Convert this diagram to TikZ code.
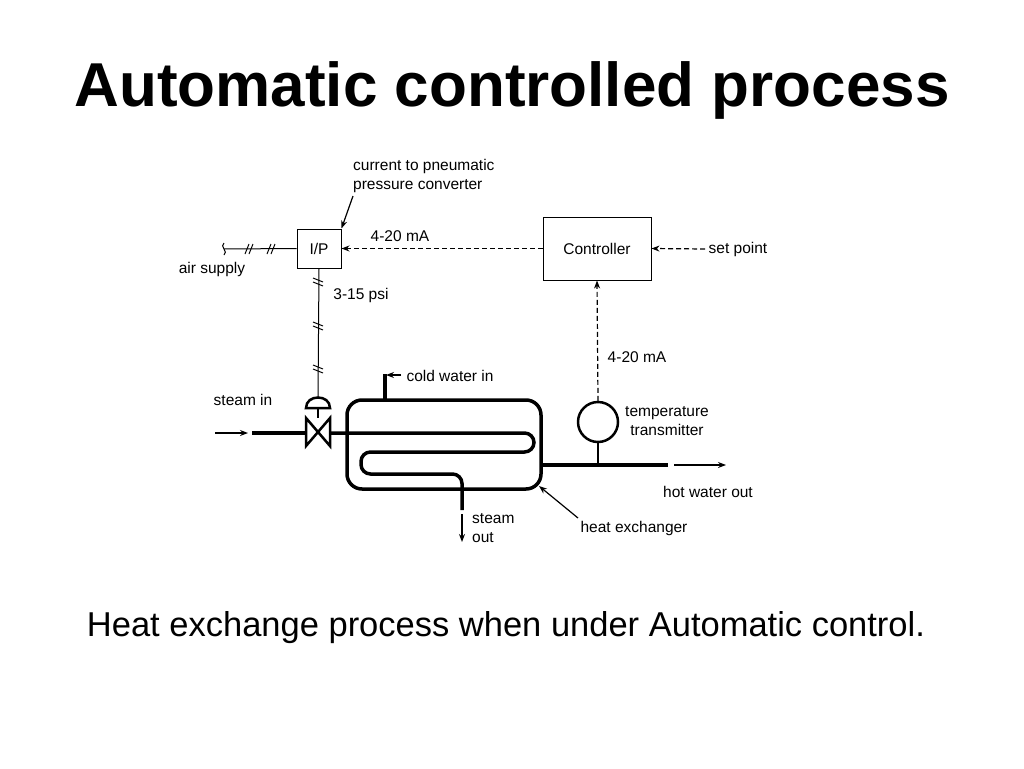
\documentclass[tikz,border=0pt]{standalone}
\usepackage{fontspec}
\setmainfont{Liberation Sans}
\usetikzlibrary{arrows.meta,positioning,calc}

\newcommand{\hashpair}[2]{% two slanted ticks at a point, rotated
  \draw[line width=1pt,rotate around={#2:#1}] ($#1+(-3,5)$) -- ($#1+(1,-5)$) ($#1+(1,5)$) -- ($#1+(5,-5)$);}

\begin{document}
\begin{tikzpicture}[x=1pt,y=-1pt,>={Stealth[length=8pt,width=6pt]},
    lbl/.style={font=\fontsize{15.5}{18.5}\selectfont,inner sep=1pt},
    box/.style={draw,line width=1pt,font=\fontsize{15.5}{18}\selectfont},
    signal/.style={dash pattern=on 5pt off 3pt,line width=1.2pt,->},
    pipe/.style={line width=3.5pt},
    flow/.style={line width=1.2pt,->}]
	\useasboundingbox (0,0) rectangle (1024,768);
	
	\node[font=\bfseries\fontsize{62}{70}\selectfont] (title) at (512,90) {Automatic controlled process};
	\node[font=\fontsize{34.5}{40}\selectfont] (caption) at (506,628) {Heat exchange process when under Automatic control.};
	
	% instruments
	\node[box,minimum width=44,minimum height=39] (IP) at (319,248.5) {I/P};
	\node[box,minimum width=108,minimum height=63] (ctrl) at (597,248.5) {Controller};
	\node[draw,circle,line width=2.5pt,minimum size=40,inner sep=0] (TT) at (598,422) {};
	
	% labels
	\node[lbl,align=left,anchor=west] (conv) at (352,176) {current to pneumatic\\pressure converter};
	\node[lbl] (sig1) at (400,236) {4-20 mA};
	\node[lbl] (sig2) at (637,357) {4-20 mA};
	\node[lbl] (setp) at (738,249) {set point};
	\node[lbl] (air) at (212,269) {air supply};
	\node[lbl] (psi) at (361,295) {3-15 psi};
	\node[lbl] (stin) at (243,400) {steam in};
	\node[lbl] (cold) at (450,376) {cold water in};
	\node[lbl,align=left,anchor=west] (stout) at (471,528) {steam\\out};
	\node[lbl,align=center] (ttl) at (667,421) {temperature\\transmitter};
	\node[lbl] (hot) at (708,492) {hot water out};
	\node[lbl] (hx) at (634,528) {heat exchanger};
	
	% signals
	\coordinate (sp) at (705,249);
	\draw[signal] (ctrl.west) -- (IP.east);
	\draw[signal] (sp) -- (ctrl.east);
	\draw[signal] (TT.north) -- (ctrl.south);
	\draw[flow] (353,196) -- (IP.north east);
	
	% air supply and pneumatic line
	\coordinate (airend) at (224,249);
	\draw[line width=1pt] (airend) -- (IP.west);
	\draw[line width=1pt] (224,243) .. controls (219,246) and (229,252) .. (224,255);
	\hashpair{(248,249)}{0}
	\hashpair{(270,249)}{0}
	\coordinate (act) at (318,398);
	\draw[line width=1pt] (IP.south) -- (act);
	\foreach \y in {283,327,370}{
		\hashpair{(318,\y)}{90}
	}
	
	% valve
	\draw[line width=2.5pt] (306,408) .. controls (306,394) and (330,394) .. (330,408) -- cycle;
	\draw[line width=2.5pt] (318,408) -- (318,418);
	\draw[line width=2.5pt] (306,418) -- (330,446) -- (330,418) -- (306,446) -- cycle;
	
	% heat exchanger shell and coil
	\draw[pipe,rounded corners=15] (347,400) rectangle (541,489);
	\draw[pipe] (252,433) -- (306,433);
	\draw[pipe,rounded corners=9.5] (330,433) -- (534,433) -- (534,452) -- (361,452)
		-- (361,474) -- (462,474) -- (462,510);
	\draw[pipe] (385,400) -- (385,374);
	\draw[pipe] (541,465) -- (668,465);
	\draw[line width=2.5pt] (TT.south) -- (598,465);
	
	% flows
	\draw[flow] (215,433) -- (248,433);
	\draw[flow] (462,514) -- (462,542);
	\draw[flow] (674,465) -- (726,465);
	\draw[flow] (401,375) -- (386,375);
	\draw[flow] (578,518) -- (539,486);
\end{tikzpicture}
\end{document}
